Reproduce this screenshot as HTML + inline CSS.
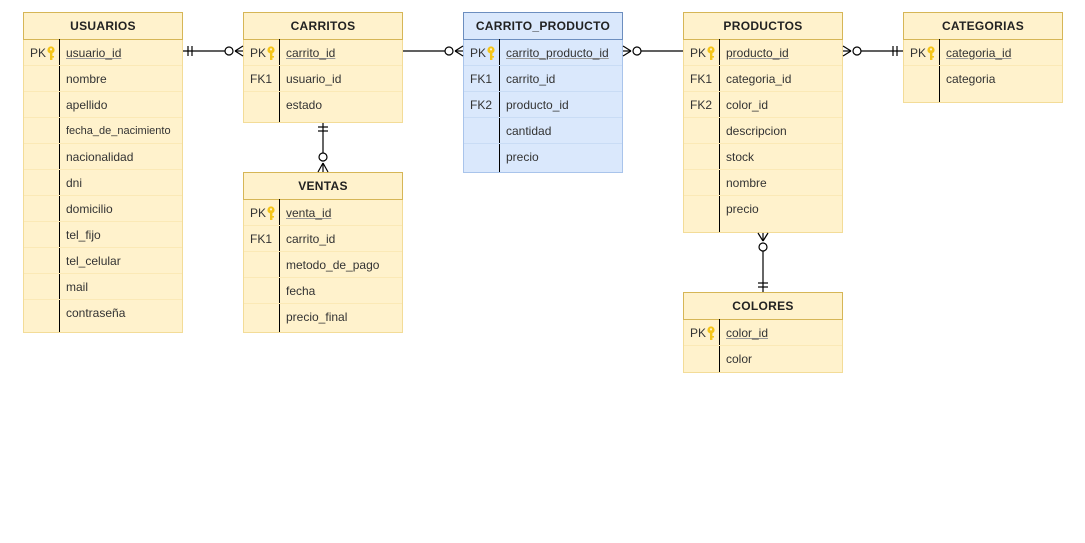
<!DOCTYPE html>
<html><head><meta charset="utf-8"><style>
body{margin:0;width:1085px;height:543px;background:#fff;position:relative;overflow:hidden;font-family:"Liberation Sans",Arial,sans-serif;}
.t{position:absolute;width:160px;background:#fff2cc;border:1px solid #f3dc98;box-sizing:border-box;}
.t.b{background:#dae8fc;border-color:#a9c4eb;}
.h{height:26px;line-height:26px;text-align:center;font-weight:bold;font-size:12px;color:#222;border:1px solid #d6b656;margin:-1px -1px 0 -1px;letter-spacing:0.3px;}
.t.b .h{border-color:#6c8ebf;}
.r{height:26px;line-height:26px;font-size:12px;color:#333;position:relative;border-bottom:1px solid #fbe9b6;box-sizing:border-box;}
.t.b .r{border-bottom-color:#c9dcf5;}
.r .k{position:absolute;left:6px;}
.r .n{position:absolute;left:42px;}
.u{text-decoration:underline;text-decoration-color:#999;}
.d{position:absolute;left:35px;top:26px;bottom:0;width:1px;background:#000;}
.key{position:absolute;left:22px;top:6px;}
</style></head><body>
<svg width="0" height="0" style="position:absolute"><defs><g id="key"><circle cx="5" cy="4" r="3.6" fill="#f5c518"/><rect x="4" y="6" width="2.4" height="8" fill="#f5c518"/><rect x="6" y="10" width="2" height="1.6" fill="#f5c518"/><circle cx="5" cy="3.4" r="1.1" fill="#fff2cc"/></g></defs></svg>

<div class="t" style="left:23px;top:12px;height:321px">
<div class="h">USUARIOS</div><div class="d"></div>
<div class="r"><span class="k">PK</span><svg class="key" width="12" height="16"><use href="#key"/></svg><span class="n u">usuario_id</span></div>
<div class="r"><span class="n">nombre</span></div>
<div class="r"><span class="n">apellido</span></div>
<div class="r"><span class="n" style="font-size:11px">fecha_de_nacimiento</span></div>
<div class="r"><span class="n">nacionalidad</span></div>
<div class="r"><span class="n">dni</span></div>
<div class="r"><span class="n">domicilio</span></div>
<div class="r"><span class="n">tel_fijo</span></div>
<div class="r"><span class="n">tel_celular</span></div>
<div class="r"><span class="n">mail</span></div>
<div class="r" style="border:0"><span class="n">contraseña</span></div>
</div>

<div class="t" style="left:243px;top:12px;height:111px">
<div class="h">CARRITOS</div><div class="d"></div>
<div class="r"><span class="k">PK</span><svg class="key" width="12" height="16"><use href="#key"/></svg><span class="n u">carrito_id</span></div>
<div class="r"><span class="k">FK1</span><span class="n">usuario_id</span></div>
<div class="r" style="border:0"><span class="n">estado</span></div>
</div>

<div class="t" style="left:243px;top:172px;height:161px">
<div class="h">VENTAS</div><div class="d"></div>
<div class="r"><span class="k">PK</span><svg class="key" width="12" height="16"><use href="#key"/></svg><span class="n u">venta_id</span></div>
<div class="r"><span class="k">FK1</span><span class="n">carrito_id</span></div>
<div class="r"><span class="n">metodo_de_pago</span></div>
<div class="r"><span class="n">fecha</span></div>
<div class="r" style="border:0"><span class="n">precio_final</span></div>
</div>

<div class="t b" style="left:463px;top:12px;height:161px">
<div class="h">CARRITO_PRODUCTO</div><div class="d"></div>
<div class="r"><span class="k">PK</span><svg class="key" width="12" height="16"><use href="#key"/></svg><span class="n u">carrito_producto_id</span></div>
<div class="r"><span class="k">FK1</span><span class="n">carrito_id</span></div>
<div class="r"><span class="k">FK2</span><span class="n">producto_id</span></div>
<div class="r"><span class="n">cantidad</span></div>
<div class="r" style="border:0"><span class="n">precio</span></div>
</div>

<div class="t" style="left:683px;top:12px;height:221px">
<div class="h">PRODUCTOS</div><div class="d"></div>
<div class="r"><span class="k">PK</span><svg class="key" width="12" height="16"><use href="#key"/></svg><span class="n u">producto_id</span></div>
<div class="r"><span class="k">FK1</span><span class="n">categoria_id</span></div>
<div class="r"><span class="k">FK2</span><span class="n">color_id</span></div>
<div class="r"><span class="n">descripcion</span></div>
<div class="r"><span class="n">stock</span></div>
<div class="r"><span class="n">nombre</span></div>
<div class="r" style="border:0"><span class="n">precio</span></div>
</div>

<div class="t" style="left:683px;top:292px;height:81px">
<div class="h">COLORES</div><div class="d"></div>
<div class="r"><span class="k">PK</span><svg class="key" width="12" height="16"><use href="#key"/></svg><span class="n u">color_id</span></div>
<div class="r" style="border:0"><span class="n">color</span></div>
</div>

<div class="t" style="left:903px;top:12px;height:91px">
<div class="h">CATEGORIAS</div><div class="d"></div>
<div class="r"><span class="k">PK</span><svg class="key" width="12" height="16"><use href="#key"/></svg><span class="n u">categoria_id</span></div>
<div class="r" style="border:0"><span class="n">categoria</span></div>
</div>

<svg width="1085" height="543" style="position:absolute;left:0;top:0" fill="none" stroke="#000" stroke-width="1.2">
<!-- USUARIOS - CARRITOS -->
<line x1="183" y1="51" x2="225" y2="51"/>
<line x1="188" y1="46" x2="188" y2="56"/><line x1="192" y1="46" x2="192" y2="56"/>
<circle cx="229" cy="51" r="4" fill="#fff"/>
<line x1="235" y1="51" x2="243" y2="46"/><line x1="235" y1="51" x2="243" y2="56"/><line x1="235" y1="51" x2="243" y2="51"/>
<!-- CARRITOS - CARRITO_PRODUCTO -->
<line x1="403" y1="51" x2="445" y2="51"/>
<circle cx="449" cy="51" r="4" fill="#fff"/>
<line x1="455" y1="51" x2="463" y2="46"/><line x1="455" y1="51" x2="463" y2="56"/><line x1="455" y1="51" x2="463" y2="51"/>
<!-- CARRITO_PRODUCTO - PRODUCTOS -->
<line x1="623" y1="46" x2="631" y2="51"/><line x1="623" y1="56" x2="631" y2="51"/><line x1="623" y1="51" x2="631" y2="51"/>
<circle cx="637" cy="51" r="4" fill="#fff"/>
<line x1="641" y1="51" x2="683" y2="51"/>
<!-- PRODUCTOS - CATEGORIAS -->
<line x1="843" y1="46" x2="851" y2="51"/><line x1="843" y1="56" x2="851" y2="51"/><line x1="843" y1="51" x2="851" y2="51"/>
<circle cx="857" cy="51" r="4" fill="#fff"/>
<line x1="861" y1="51" x2="903" y2="51"/>
<line x1="893" y1="46" x2="893" y2="56"/><line x1="897" y1="46" x2="897" y2="56"/>
<!-- CARRITOS - VENTAS -->
<line x1="323" y1="123" x2="323" y2="153"/>
<line x1="318" y1="127" x2="328" y2="127"/><line x1="318" y1="131" x2="328" y2="131"/>
<circle cx="323" cy="157" r="4" fill="#fff"/>
<line x1="323" y1="163" x2="318" y2="172"/><line x1="323" y1="163" x2="328" y2="172"/><line x1="323" y1="163" x2="323" y2="172"/>
<!-- PRODUCTOS - COLORES -->
<line x1="758" y1="233" x2="763" y2="241"/><line x1="768" y1="233" x2="763" y2="241"/><line x1="763" y1="233" x2="763" y2="241"/>
<circle cx="763" cy="247" r="4" fill="#fff"/>
<line x1="763" y1="251" x2="763" y2="292"/>
<line x1="758" y1="283" x2="768" y2="283"/><line x1="758" y1="287" x2="768" y2="287"/>
</svg>
</body></html>
